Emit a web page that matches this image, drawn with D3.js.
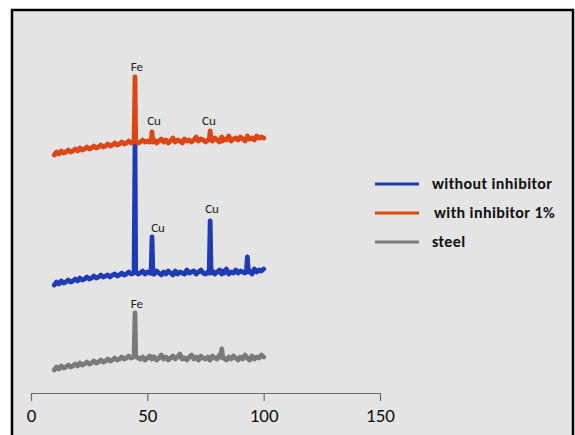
<!DOCTYPE html>
<html><head><meta charset="utf-8">
<script src="https://cdn.jsdelivr.net/npm/d3@7/dist/d3.min.js"></script>
<style>html,body{margin:0;padding:0;background:#fff;}svg{display:block;}</style>
</head><body>
<script>
// 2-theta sample positions
const twoTheta = [10,11,12,13,14,15,16,17,18,19, 20,21,22,23,24,25,26,27,28,29, 30,31,32,33,34,35,36,37,38,39, 40,41,42,43,
  44,44.3,44.7,45, 46,47,48,49,50,51, 51.6,52,52.4,
  53,54,55,56,57,58,59,60, 61,62,63,64,65,66,67,68, 69,70,71,72,73,74,75,76,
  76.6,77,77.4, 78,79,80,81, 81.6,82,82.4, 83,84,85,86,87,88,89,90,91,92, 92.6,93,93.4, 94,95,96,97,98,99,100];

const steel = [20,23,21,24,22,23,25,23,24,26, 24,27,25,26,28,26,27,29,27,28, 30,28,29,31,29,30,32,30,31,33, 31,32,34,32,
  33,33,77,34, 32,31,33,30,32,34, 32,31,33,
  33,30,32,35,31,33,30,32, 34,31,33,36,31,32,30,33, 35,31,33,30,34,32,31,33,
  31,30,32, 34,32,31,35, 33,41,32, 32,30,33,31,34,32,30,33,31,35, 33,32,31, 30,34,31,33,32,35,33];

const withoutInhibitor = [105,108,106,109,107,108,110,108,109,111, 109,112,110,111,113,111,112,114,112,113, 115,113,114,115,113,115,116,114,115,117, 115,116,118,116,
  117,117,247,118, 116,117,119,116,118,117, 117,153,116,
  116,119,117,115,118,116,119,117, 115,119,116,118,117,116,120,117, 118,119,116,118,120,117,116,118,
  117,169,117, 119,116,118,120, 117,116,119, 117,121,116,118,117,120,117,119,118,117, 119,133,118, 119,116,121,118,120,119,121];

const withInhibitor = [235,238,236,239,237,238,240,238,239,241, 239,242,240,241,243,241,242,244,242,243, 245,243,244,246,244,245,247,245,246,248, 246,247,249,247,
  248,248,313,249, 247,248,250,248,249,248, 249,258,248,
  250,247,249,251,248,250,247,249, 252,248,250,249,247,251,249,250, 248,250,253,249,251,250,248,250,
  250,259,250, 249,252,250,248, 251,253,249, 251,250,254,249,251,252,250,253,251,249, 252,254,251, 251,252,250,254,252,253,252];

const seriesNames = ["without inhibitor", "with inhibitor 1%", "steel"];
const seriesColors = ["#1f3bb3", "#dc4614", "#7a7a7a"];
const xTicks = [0, 50, 100, 150];

const peakLabels = [
  {text: "Fe", x: 45.5, v: 319},
  {text: "Cu", x: 52.9, v: 265},
  {text: "Cu", x: 76.5, v: 265},
  {text: "Cu", x: 54.6, v: 158},
  {text: "Cu", x: 77.8, v: 177},
  {text: "Fe", x: 45.5, v: 82}
];

const W = 575, H = 435;
const FONT = "Carlito, Calibri, 'Liberation Sans', Arial, sans-serif";
const svg = d3.select("body").append("svg").attr("width", W).attr("height", H);

svg.append("rect").attr("x", 12).attr("y", 10).attr("width", 561).attr("height", 440)
  .attr("fill", "#e4e4e4").attr("stroke", "#000").attr("stroke-width", 2.5);

const x = d3.scaleLinear().domain([0, 150]).range([31, 380]);
const y = d3.scaleLinear().domain([0, 320]).range([390, 70]);

// axis
const axisG = svg.append("g").attr("transform", "translate(0,393)")
  .call(d3.axisBottom(x).tickValues(xTicks).tickSize(8).tickPadding(8).tickSizeOuter(0));
axisG.select(".domain").attr("stroke", "#6b6b6b").attr("stroke-width", 1.2);
axisG.selectAll(".tick line").attr("stroke", "#6b6b6b").attr("stroke-width", 1.2);
axisG.selectAll(".tick text").attr("fill", "#111").attr("font-size", 19)
  .attr("font-family", FONT);

const line = d3.line().x((d, i) => x(twoTheta[i])).y(d => y(d));

const data = [withoutInhibitor, withInhibitor, steel];
// draw order: steel, blue, orange on top
[2, 0, 1].forEach(k => {
  svg.append("path").datum(data[k]).attr("d", line)
    .attr("fill", "none").attr("stroke", seriesColors[k])
    .attr("stroke-width", 4.8).attr("stroke-linejoin", "round").attr("stroke-linecap", "round");
});

svg.selectAll("text.peak").data(peakLabels).enter().append("text")
  .attr("class", "peak")
  .attr("x", d => x(d.x))
  .attr("y", d => y(d.v))
  .attr("text-anchor", "middle")
  .attr("font-size", 13).attr("fill", "#222")
  .attr("font-family", FONT)
  .text(d => d.text);

// legend
const legend = svg.append("g");
const legY = [184, 213, 242];
seriesNames.forEach((name, i) => {
  legend.append("line").attr("x1", 375).attr("x2", 419)
    .attr("y1", legY[i]).attr("y2", legY[i])
    .attr("stroke", seriesColors[i]).attr("stroke-width", 3);
  legend.append("text").attr("x", i === 1 ? 434 : 432).attr("y", legY[i] + 5)
    .attr("font-size", 16).attr("font-weight", "bold").attr("fill", "#111")
    .attr("letter-spacing", 0.4)
    .attr("font-family", FONT)
    .text(name);
});
</script>
</body></html>
